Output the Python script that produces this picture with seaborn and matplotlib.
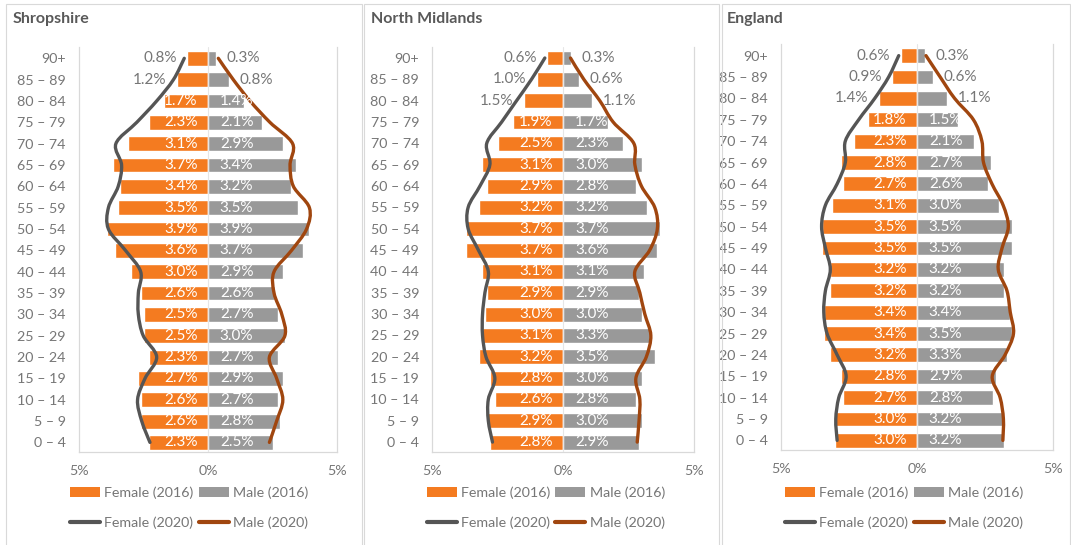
import numpy as np
import matplotlib
matplotlib.use("Agg")
import matplotlib.pyplot as plt
import seaborn as sns
from matplotlib.path import Path
from matplotlib.patches import PathPatch, Patch, Rectangle
from matplotlib.lines import Line2D

# ---------------- data ----------------
ages = ["90+", "85 – 89", "80 – 84", "75 – 79", "70 – 74", "65 – 69", "60 – 64",
        "55 – 59", "50 – 54", "45 – 49", "40 – 44", "35 – 39", "30 – 34",
        "25 – 29", "20 – 24", "15 – 19", "10 – 14", "5 – 9", "0 – 4"]

shrop_female_2016 = [0.8, 1.2, 1.7, 2.3, 3.1, 3.7, 3.4, 3.5, 3.9, 3.6, 3.0, 2.6, 2.5, 2.5, 2.3, 2.7, 2.6, 2.6, 2.3]
shrop_male_2016 = [0.3, 0.8, 1.4, 2.1, 2.9, 3.4, 3.2, 3.5, 3.9, 3.7, 2.9, 2.6, 2.7, 3.0, 2.7, 2.9, 2.7, 2.8, 2.5]
shrop_female_2020 = [0.92, 1.34, 1.99, 2.76, 3.57, 3.35, 3.48, 3.86, 3.86, 3.2, 2.61, 2.7, 2.7, 2.51, 1.99, 2.44, 2.73, 2.57, 2.25]
shrop_male_2020 = [0.4, 0.98, 1.63, 2.4, 3.28, 3.18, 3.31, 3.93, 3.82, 3.24, 2.56, 2.56, 2.86, 2.98, 2.38, 2.66, 2.9, 2.66, 2.38]

nm_female_2016 = [0.6, 1.0, 1.5, 1.9, 2.5, 3.1, 2.9, 3.2, 3.7, 3.7, 3.1, 2.9, 3.0, 3.1, 3.2, 2.8, 2.6, 2.9, 2.8]
nm_male_2016 = [0.3, 0.6, 1.1, 1.7, 2.3, 3.0, 2.8, 3.2, 3.7, 3.6, 3.1, 2.9, 3.0, 3.3, 3.5, 3.0, 2.8, 3.0, 2.9]
nm_female_2020 = [0.7, 1.21, 1.78, 2.35, 2.92, 2.8, 3.18, 3.63, 3.63, 3.24, 2.86, 2.99, 3.08, 3.08, 2.95, 2.61, 2.86, 2.86, 2.7]
nm_male_2020 = [0.28, 0.79, 1.4, 1.91, 2.7, 2.74, 2.99, 3.5, 3.6, 3.31, 2.74, 2.93, 3.12, 3.35, 3.18, 2.78, 2.93, 2.9, 2.83]

eng_female_2016 = [0.6, 0.9, 1.4, 1.8, 2.3, 2.8, 2.7, 3.1, 3.5, 3.5, 3.2, 3.2, 3.4, 3.4, 3.2, 2.8, 2.7, 3.0, 3.0]
eng_male_2016 = [0.3, 0.6, 1.1, 1.5, 2.1, 2.7, 2.6, 3.0, 3.5, 3.5, 3.2, 3.2, 3.4, 3.5, 3.3, 2.9, 2.8, 3.2, 3.2]
eng_female_2020 = [0.67, 1.04, 1.55, 2.14, 2.63, 2.63, 2.93, 3.36, 3.5, 3.36, 3.18, 3.36, 3.42, 3.3, 2.93, 2.6, 2.87, 2.98, 2.93]
eng_male_2020 = [0.33, 0.85, 1.38, 2.07, 2.38, 2.44, 2.75, 3.16, 3.35, 3.12, 2.98, 3.3, 3.42, 3.54, 3.23, 2.76, 3.05, 3.17, 3.15]

titles = ["Shropshire", "North Midlands", "England"]
legend_labels = ["Female (2016)", "Female (2020)", "Male (2016)", "Male (2020)"]

# ---------------- style ----------------
ORANGE = "#F47B20"
GREY = "#999999"
DARK = "#555555"
BROWN = "#A0460F"
TXT = "#767676"
TITLE = "#595959"
FRAME = "#D9D9D9"

sns.set_style("white")
plt.rcParams['font.family'] = ['Lato', 'DejaVu Sans']

W, H = 1071, 545
fig = plt.figure(figsize=(W / 100, H / 100), dpi=100)


def fx(px):
    return px / W


def fy(py):
    return 1 - py / H


def smooth_path(xs, ys):
    pts = np.column_stack([xs, ys]).astype(float)
    n = len(pts)
    verts = [pts[0]]
    codes = [Path.MOVETO]
    for i in range(n - 1):
        p0 = pts[i - 1] if i > 0 else pts[i]
        p1 = pts[i]
        p2 = pts[i + 1]
        p3 = pts[i + 2] if i + 2 < n else pts[i + 1]
        c1 = p1 + (p2 - p0) / 6.0
        c2 = p2 - (p3 - p1) / 6.0
        verts += [c1, c2, p2]
        codes += [Path.CURVE4] * 3
    return Path(verts, codes)


panels = [
    dict(title=titles[0], f16=shrop_female_2016, m16=shrop_male_2016,
         f20=shrop_female_2020, m20=shrop_male_2020,
         box=(6, 362), tx=13, ax=(79, 337, 47, 452), n_out=2, lx=70),
    dict(title=titles[1], f16=nm_female_2016, m16=nm_male_2016,
         f20=nm_female_2020, m20=nm_male_2020,
         box=(364, 719), tx=371, ax=(432.3, 694, 46.7, 451.7), n_out=3, lx=426.7),
    dict(title=titles[2], f16=eng_female_2016, m16=eng_male_2016,
         f20=eng_female_2020, m20=eng_male_2020,
         box=(722, 1070), tx=727, ax=(780.7, 1053.3, 44.3, 450), n_out=3, lx=785),
]

FS = 10.3
LFS = 11
for p in panels:
    x0, x1 = p["box"]
    fig.patches.append(Rectangle((fx(x0), fy(H + 5)), fx(x1 - x0), (H + 5 - 4) / H,
                                 transform=fig.transFigure, fill=False,
                                 edgecolor=FRAME, linewidth=0.8))
    fig.text(fx(p["tx"]), fy(19), p["title"], fontsize=11.5, fontweight="bold",
             color=TITLE, ha="left", va="center")

    l, r, t, b = p["ax"]
    ax = fig.add_axes([fx(l), fy(b), fx(r - l), (b - t) / H])

    f16 = -np.array(p["f16"])
    m16 = np.array(p["m16"])
    sns.barplot(x=f16, y=ages, order=ages, orient="h", color=ORANGE,
                saturation=1, width=0.7, ax=ax, zorder=2)
    sns.barplot(x=m16, y=ages, order=ages, orient="h", color=GREY,
                saturation=1, width=0.7, ax=ax, zorder=2)

    ypos = np.arange(len(ages))
    ax.add_patch(PathPatch(smooth_path(-np.array(p["f20"]), ypos), fill=False,
                           edgecolor=DARK, linewidth=2.4, zorder=4,
                           capstyle="round"))
    ax.add_patch(PathPatch(smooth_path(np.array(p["m20"]), ypos), fill=False,
                           edgecolor=BROWN, linewidth=2.4, zorder=4,
                           capstyle="round"))

    ax.axvline(0, color="#E6E6E6", linewidth=0.8, zorder=3)

    # data labels
    for i, (fv, mv) in enumerate(zip(p["f16"], p["m16"])):
        if i < p["n_out"]:
            ax.annotate(f"{fv:.1f}%", (-fv, i), xytext=(-7.5, 0),
                        textcoords="offset points", ha="right", va="center",
                        color=TXT, fontsize=LFS, zorder=5)
            ax.annotate(f"{mv:.1f}%", (mv, i), xytext=(7.5, 0),
                        textcoords="offset points", ha="left", va="center",
                        color=TXT, fontsize=LFS, zorder=5)
        else:
            ax.annotate(f"{fv:.1f}%", (0, i), xytext=(-7.5, 0),
                        textcoords="offset points", ha="right", va="center",
                        color="white", fontsize=LFS, zorder=5)
            ax.annotate(f"{mv:.1f}%", (0, i), xytext=(8.5, 0),
                        textcoords="offset points", ha="left", va="center",
                        color="white", fontsize=LFS, zorder=5)

    ax.set_xlim(-5, 5)
    ax.set_ylim(18.45, -0.53)
    ax.set_xticks([-5, 0, 5])
    ax.set_xticklabels(["5%", "0%", "5%"])
    ax.set_xlabel("")
    ax.set_ylabel("")
    ax.tick_params(axis="both", length=0, labelsize=FS, labelcolor=TXT)
    ax.tick_params(axis="y", pad=9.5)
    ax.tick_params(axis="x", pad=9.5)
    for s in ["left", "right", "bottom"]:
        ax.spines[s].set_visible(True)
        ax.spines[s].set_color(FRAME)
        ax.spines[s].set_linewidth(0.9)
    ax.spines["top"].set_visible(False)
    ax.grid(False)
    ax.set_facecolor("white")

    handles = [Patch(facecolor=ORANGE, edgecolor="none"),
               Line2D([], [], color=DARK, linewidth=3),
               Patch(facecolor=GREY, edgecolor="none"),
               Line2D([], [], color=BROWN, linewidth=3)]
    ax.legend(handles, legend_labels, ncol=2, loc="upper left",
              bbox_to_anchor=(fx(p["lx"]), fy(486.5)), bbox_transform=fig.transFigure,
              frameon=False, fontsize=FS, labelcolor=TXT, borderpad=0,
              borderaxespad=0, handlelength=2.1, handletextpad=0.3,
              columnspacing=0.35, labelspacing=1.2)

fig.savefig("out.png", dpi=100, facecolor="white")
